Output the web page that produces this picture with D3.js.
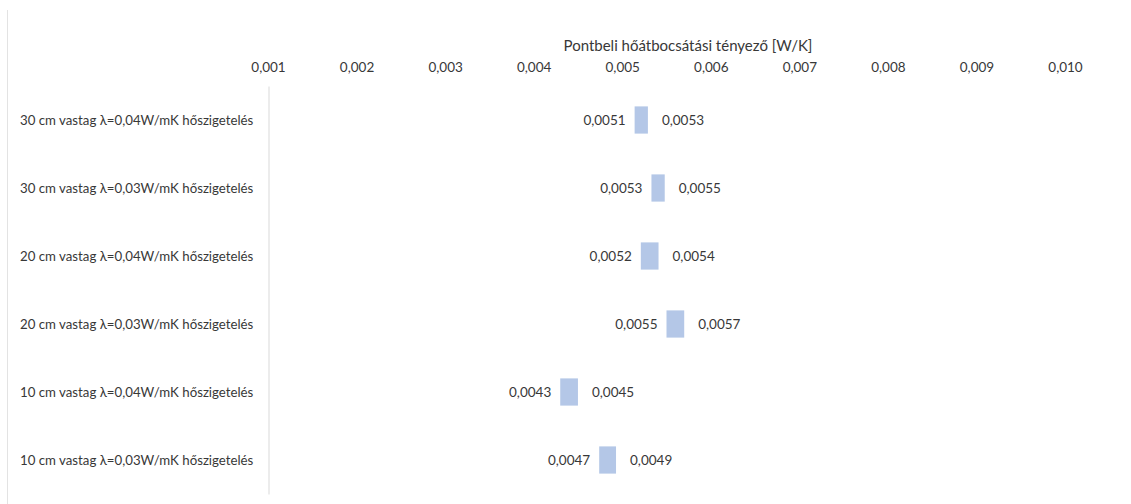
<!DOCTYPE html>
<html>
<head>
<meta charset="utf-8">
<script src="https://cdn.jsdelivr.net/npm/d3@7"></script>
<style>
  html, body { margin: 0; padding: 0; background: #ffffff; }
  svg { display: block; font-family: Lato, "Open Sans", sans-serif; }
</style>
</head>
<body>
<svg id="chart" width="1131" height="504"></svg>
<script>
// Insulation variants, listed top to bottom
const categories = [
  "30 cm vastag λ=0,04W/mK hőszigetelés",
  "30 cm vastag λ=0,03W/mK hőszigetelés",
  "20 cm vastag λ=0,04W/mK hőszigetelés",
  "20 cm vastag λ=0,03W/mK hőszigetelés",
  "10 cm vastag λ=0,04W/mK hőszigetelés",
  "10 cm vastag λ=0,03W/mK hőszigetelés"
];
// Lower and upper bound of the point thermal transmittance range [W/K]
const lowValues  = [0.00514, 0.00533, 0.00521, 0.00550, 0.00430, 0.00474];
const highValues = [0.00529, 0.00548, 0.00541, 0.00570, 0.00450, 0.00493];
// Axis ticks
const tickValues = [0.001, 0.002, 0.003, 0.004, 0.005, 0.006, 0.007, 0.008, 0.009, 0.010];
const axisTitle = "Pontbeli hőátbocsátási tényező [W/K]";

const textColor = "#383838";
const gridColor = "#d9d9d9";
const barColor  = "#b4c7e7";
const labelSize = 13.5;
const categorySize = 13.25;

const svg = d3.select("#chart");

const x = d3.scaleLinear().domain([0.001, 0.010]).range([268, 1065]);
const y = d3.scaleBand().domain(categories).range([86, 494])
  .paddingInner(0.6).paddingOuter(0.3);

const comma = f => v => d3.format(f)(v).replace(".", ",");

// Thin frame line at the far left
svg.append("line")
  .attr("x1", 7.5).attr("x2", 7.5).attr("y1", 10).attr("y2", 504)
  .attr("stroke", "#e3e3e3").attr("stroke-width", 1);

// Axis title
svg.append("text")
  .attr("x", 688).attr("y", 45)
  .attr("text-anchor", "middle").attr("dominant-baseline", "central")
  .attr("fill", textColor).attr("font-size", 15)
  .text(axisTitle);

// Value axis along the top
const xAxis = svg.append("g")
  .attr("transform", "translate(0,72)")
  .call(d3.axisTop(x).tickValues(tickValues).tickFormat(comma(".3f"))
    .tickSize(0).tickPadding(0));
xAxis.select(".domain").remove();
xAxis.selectAll("text")
  .attr("fill", textColor).attr("font-size", labelSize)
  .attr("font-family", "Lato, 'Open Sans', sans-serif");

// Category axis line
const yAxis = svg.append("g")
  .attr("transform", "translate(268.5,0)")
  .call(d3.axisLeft(y).tickSize(0).tickSizeOuter(0).tickFormat(""));
yAxis.select(".domain").attr("stroke", gridColor);

// Category labels, left aligned
svg.append("g").selectAll("text")
  .data(categories)
  .join("text")
  .attr("x", 20)
  .attr("y", d => y(d) + y.bandwidth() / 2)
  .attr("dominant-baseline", "central")
  .attr("fill", textColor).attr("font-size", categorySize)
  .text(d => d);

const rows = categories.map((c, i) => ({ c, lo: lowValues[i], hi: highValues[i] }));

// Range bars
svg.append("g").selectAll("rect")
  .data(rows)
  .join("rect")
  .attr("x", d => x(d.lo))
  .attr("y", d => y(d.c))
  .attr("width", d => x(d.hi) - x(d.lo))
  .attr("height", y.bandwidth())
  .attr("fill", barColor);

const fmt4 = comma(".4f");

// Lower bound labels
svg.append("g").selectAll("text")
  .data(rows)
  .join("text")
  .attr("x", d => x(d.lo) - 9)
  .attr("y", d => y(d.c) + y.bandwidth() / 2)
  .attr("text-anchor", "end").attr("dominant-baseline", "central")
  .attr("fill", textColor).attr("font-size", labelSize)
  .text(d => fmt4(d.lo));

// Upper bound labels
svg.append("g").selectAll("text")
  .data(rows)
  .join("text")
  .attr("x", d => x(d.hi) + 14)
  .attr("y", d => y(d.c) + y.bandwidth() / 2)
  .attr("text-anchor", "start").attr("dominant-baseline", "central")
  .attr("fill", textColor).attr("font-size", labelSize)
  .text(d => fmt4(d.hi));
</script>
</body>
</html>
